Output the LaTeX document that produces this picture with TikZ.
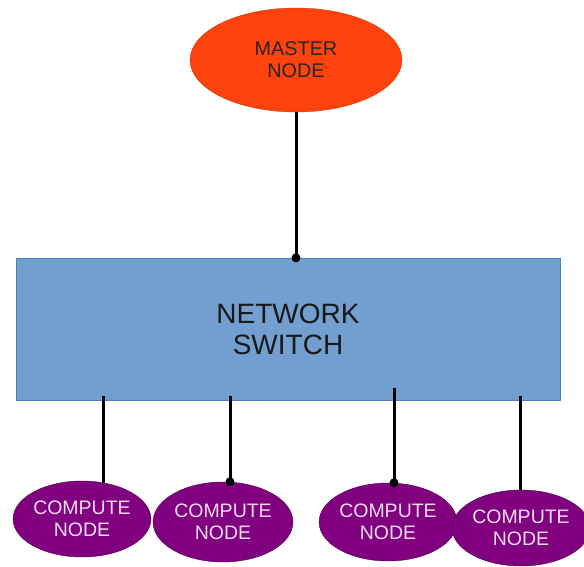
\documentclass[tikz,border=0pt]{standalone}
\usepackage{fontspec}
\setmainfont{Liberation Sans}
\usetikzlibrary{shapes.geometric}

\definecolor{masterfill}{HTML}{FF420E}
\definecolor{masterline}{HTML}{C0400A}
\definecolor{switchfill}{HTML}{729FCF}
\definecolor{switchline}{HTML}{4A7DB8}
\definecolor{computefill}{HTML}{800080}
\definecolor{computeline}{HTML}{4E004E}
\definecolor{computetext}{HTML}{F2DDF2}

\tikzset{
  master/.style={ellipse,draw=masterline,fill=masterfill,inner sep=0pt,
    minimum width=212pt,minimum height=104pt,align=center,text=black!85,
    font=\fontsize{19.8}{22}\selectfont},
  switch/.style={rectangle,draw=switchline,fill=switchfill,inner sep=0pt,
    minimum width=544pt,minimum height=142pt,align=center,text=black!90,
    font=\fontsize{28}{31}\selectfont},
  compute/.style={ellipse,draw=computeline,fill=computefill,inner sep=0pt,
    align=center,text=computetext,font=\fontsize{19.5}{22}\selectfont},
  wire/.style={line width=3pt,black},
  port/.style={circle,fill=black,inner sep=0pt,minimum size=9pt}
}

\begin{document}
\begin{tikzpicture}[x=1pt,y=-1pt]
  \useasboundingbox (0,0) rectangle (584,567);

  \node[master] (master) at (296,60) {MASTER\\NODE};
  \node[switch] (switch) at (288,329) {NETWORK\\SWITCH};

  \node[compute,minimum width=136pt,minimum height=76pt] (c1) at (82,519) {COMPUTE\\NODE};
  \node[compute,minimum width=140pt,minimum height=80pt] (c2) at (223,522) {COMPUTE\\NODE};
  \node[compute,minimum width=137pt,minimum height=78pt] (c3) at (388,522) {COMPUTE\\NODE};
  \node[compute,minimum width=126pt,minimum height=76pt] (c4) at (521,528) {COMPUTE\\NODE};

  % master to switch
  \draw[wire] (master.south) -- (master.south |- switch.north);
  \node[port] at (master.south |- switch.north) {};

  % switch to compute nodes
  \coordinate (p1) at (103,396);
  \coordinate (p2) at (230,396);
  \coordinate (p3) at (394,388);
  \coordinate (p4) at (520,396);
  \draw[wire] (p1) -- (p1 |- 0,483);
  \draw[wire] (p2) -- (p2 |- c2.north);
  \node[port] at (p2 |- c2.north) {};
  \draw[wire] (p3) -- (p3 |- c3.north);
  \node[port] at (p3 |- c3.north) {};
  \draw[wire] (p4) -- (p4 |- c4.north);
\end{tikzpicture}
\end{document}
